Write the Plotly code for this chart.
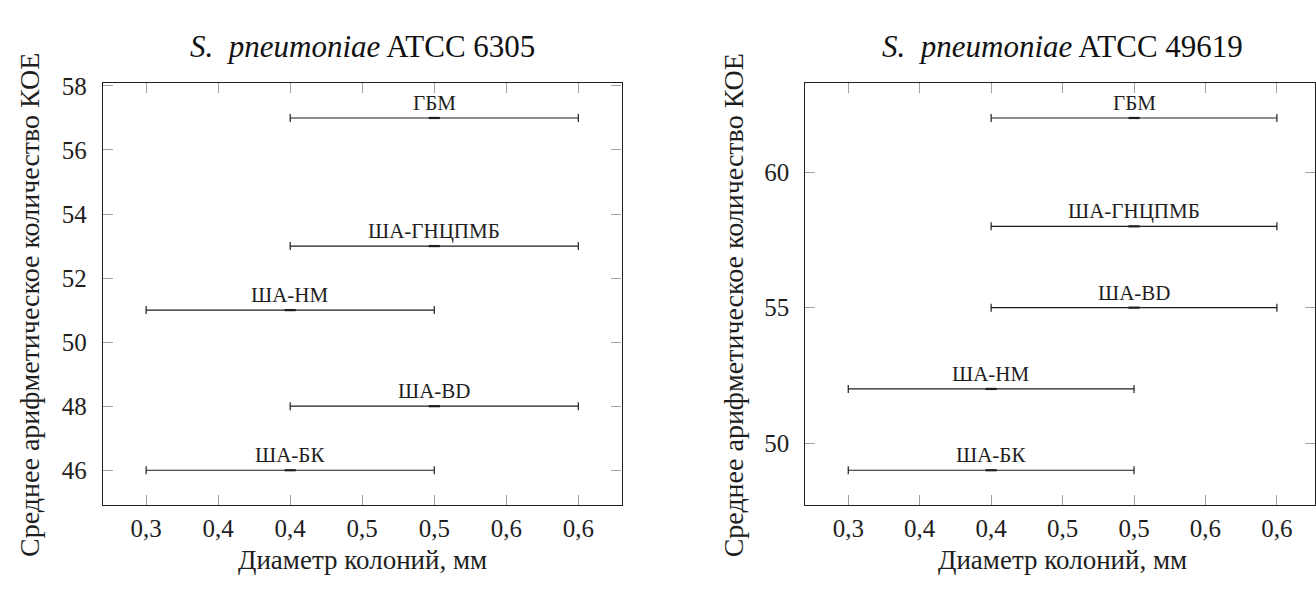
import plotly.graph_objects as go

# ---- data ----
labels_a = ["ГБМ", "ША-ГНЦПМБ", "ША-НМ", "ША-BD", "ША-БК"]
x_a = [0.5, 0.5, 0.4, 0.5, 0.4]
y_a = [57, 53, 51, 48, 46]
err_a = [0.1, 0.1, 0.1, 0.1, 0.1]

labels_b = ["ГБМ", "ША-ГНЦПМБ", "ША-BD", "ША-НМ", "ША-БК"]
x_b = [0.5, 0.5, 0.5, 0.4, 0.4]
y_b = [62, 58, 55, 52, 49]
err_b = [0.1, 0.1, 0.1, 0.1, 0.1]

x_tickvals = [0.3, 0.35, 0.4, 0.45, 0.5, 0.55, 0.6]
x_ticktext = ["0,3", "0,4", "0,4", "0,5", "0,5", "0,6", "0,6"]
y_ticks_a = [46, 48, 50, 52, 54, 56, 58]
y_ticks_b = [50, 55, 60]

title_a = "<i>S.\u2002pneumoniae</i> ATCC 6305"
title_b = "<i>S.\u2002pneumoniae</i> ATCC 49619"
xlabel = "Диаметр колоний, мм"
ylabel = "Среднее арифметическое количество КОЕ"

W, H = 1316, 590
SERIF = "Liberation Serif"
INK = "#1e1e1e"
TICKC = "#a0a0a0"

fig = go.Figure()
ann = []


def add_series(xs, ys, errs, labels, xa, ya):
    fig.add_trace(go.Scatter(
        x=xs, y=ys, xaxis=xa, yaxis=ya,
        mode="markers",
        marker=dict(symbol="line-ew", size=8, color=INK,
                    line=dict(width=2.2, color=INK)),
        error_x=dict(type="data", array=errs, visible=True,
                     color=INK, thickness=1.2, width=4),
        showlegend=False, cliponaxis=False, hoverinfo="skip",
    ))
    for xv, yv, lab in zip(xs, ys, labels):
        ann.append(dict(text=lab, x=xv, y=yv, xref=xa, yref=ya,
                        showarrow=False, xanchor="center", yanchor="bottom",
                        yshift=1,
                        font=dict(family=SERIF, size=21, color=INK)))


add_series(x_a, y_a, err_a, labels_a, "x", "y")
add_series(x_b, y_b, err_b, labels_b, "x2", "y2")

# pixel geometry
L1, R1 = 103, 622
L2 = 806
T, B = 74, 504
px_per_x = (578 - 147) / 0.3
r2_right = 0.6 + (W - 1277.7) / px_per_x

common_x = dict(
    tickmode="array", tickvals=x_tickvals, ticktext=x_ticktext,
    ticks="inside", ticklen=10, tickcolor=TICKC, tickwidth=1,
    showline=True, linecolor=INK, linewidth=1.2, mirror="allticks",
    showgrid=False, zeroline=False,
    tickfont=dict(family=SERIF, size=25, color=INK),
    ticklabelstandoff=0,
)
common_y = dict(
    ticks="inside", ticklen=10, tickcolor=TICKC, tickwidth=1,
    showline=True, linecolor=INK, linewidth=1.2, mirror="allticks",
    showgrid=False, zeroline=False,
    tickfont=dict(family=SERIF, size=25, color=INK),
    ticklabelstandoff=10,
)

fig.update_layout(
    width=W, height=H,
    margin=dict(l=0, r=0, t=0, b=0),
    paper_bgcolor="white", plot_bgcolor="white",
    font=dict(family=SERIF),
    xaxis=dict(domain=[L1 / W, R1 / W], range=[0.27, 0.63], anchor="y", **common_x),
    yaxis=dict(domain=[1 - B / H, 1 - T / H], range=[44.9, 58.1], anchor="x",
               tickmode="array", tickvals=y_ticks_a, **common_y),
    xaxis2=dict(domain=[L2 / W, 1.0], range=[0.27, r2_right], anchor="y2", **common_x),
    yaxis2=dict(domain=[1 - B / H, 1 - T / H], range=[47.7, 63.3], anchor="x2",
                tickmode="array", tickvals=y_ticks_b, **common_y),
)

for cx, ttl in [((L1 + R1) / 2, title_a), ((L2 + 1320) / 2, title_b)]:
    ann.append(dict(text=ttl, x=cx / W, y=1 - 37 / H, xref="paper", yref="paper",
                    showarrow=False, xanchor="center", yanchor="middle",
                    font=dict(family=SERIF, size=31, color="#111")))
    ann.append(dict(text=xlabel, x=cx / W, y=1 - 559 / H, xref="paper", yref="paper",
                    showarrow=False, xanchor="center", yanchor="middle",
                    font=dict(family=SERIF, size=27, color=INK)))
for yx in [30, 734]:
    ann.append(dict(text=ylabel, x=yx / W, y=1 - 300 / H, xref="paper", yref="paper",
                    showarrow=False, xanchor="center", yanchor="middle", textangle=-90,
                    font=dict(family=SERIF, size=28, color=INK)))
fig.update_layout(annotations=ann)

fig.write_html("out.html")
